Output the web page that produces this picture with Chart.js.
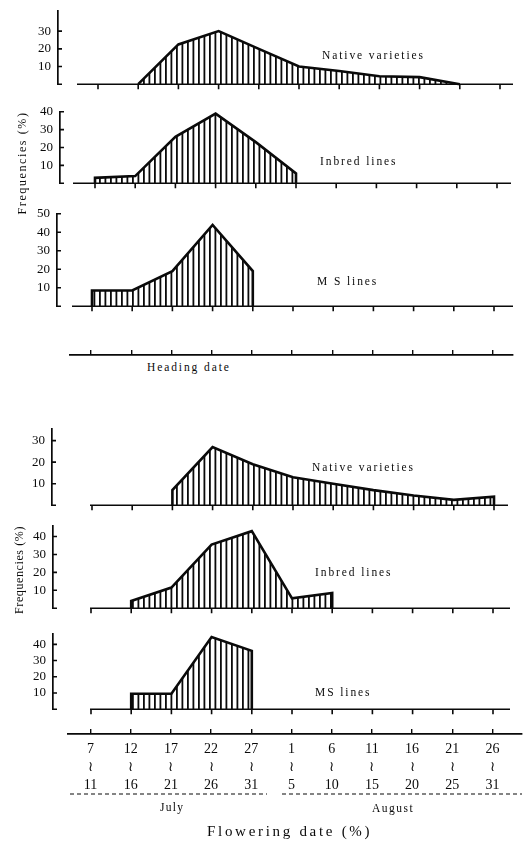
<!DOCTYPE html>
<html>
<head>
<meta charset="utf-8">
<script src="https://cdn.jsdelivr.net/npm/chart.js@4.4.0/dist/chart.umd.min.js"></script>
<style>
  body{margin:0;background:#fff;width:531px;height:841px;overflow:hidden;position:relative;
       font-family:"Liberation Serif","DejaVu Serif",serif;color:#0a0a0a}
  canvas{position:absolute;left:0}
  .note{position:absolute;white-space:nowrap;line-height:1}
  .ytitle{position:absolute;white-space:nowrap;line-height:1;transform:translate(-50%,-50%) rotate(-90deg)}
</style>
</head>
<body>
<script>
// ---------- DATA ----------
// 5-day periods, July 7 - August 31
const startDays = ['7','12','17','22','27','1','6','11','16','21','26'];
const endDays   = ['11','16','21','26','31','5','10','15','20','25','31'];

// heading date, frequencies (%)
const headNative = [null, 0, 22.5, 30, 20, 10, 7.5, 4.5, 4, 0, null];
const headInbred = [3, 4, 26, 39, 23, 5.5, null, null, null, null, null];
const headMS     = [8.5, 8.5, 19, 44, 19, null, null, null, null, null, null];

// flowering date, frequencies (%)
const flowNative = [null, null, 7, 27, 19, 13, 10, 7, 4.5, 2.5, 4];
const flowInbred = [null, 4, 11.5, 35.5, 43, 5.5, 8.5, null, null, null, null];
const flowMS     = [null, 9.5, 9.5, 44.5, 36, null, null, null, null, null, null];

// y tick labels per panel
const ticksNativeHead = [0, 10, 20, 30];
const ticks40 = [0, 10, 20, 30, 40];
const ticks50 = [0, 10, 20, 30, 40, 50];
const ticksNativeFlow = [0, 10, 20, 30];

// ---------- LAYOUT ----------
const INK = '#0a0a0a';
const SERIF = '"Liberation Serif", "DejaVu Serif", serif';
const STEP = 40.2;   // px between periods
const W = 531;

// A: y-axis x, Z: zero y, T: top y, M: axis max, x0: first period x, from/to: baseline ends
const panels = [
  {vals: headNative, ticks: ticksNativeHead, M: 41.5, A: 58, Z: 88.5, T: 5.5, x0: 98, from: 77, to: 513},
  {vals: headInbred, ticks: ticks40, M: 40, A: 60, Z: 188, T: 107, x0: 95, from: 73, to: 511},
  {vals: headMS, ticks: ticks50, M: 50, A: 57, Z: 311, T: 209, x0: 92, from: 72, to: 513},
  {vals: flowNative, ticks: ticksNativeFlow, M: 35.5, A: 52, Z: 509.5, T: 423.5, x0: 92, from: 90, to: 508},
  {vals: flowInbred, ticks: ticks40, M: 46, A: 53, Z: 612.5, T: 520.5, x0: 91, from: 90, to: 510},
  {vals: flowMS, ticks: ticks40, M: 46.5, A: 53, Z: 714, T: 628.5, x0: 91, from: 90, to: 510}
];

// ---------- HELPERS ----------
function makeHatch(){
  const c = document.createElement('canvas');
  c.width = 11; c.height = 2;
  const g = c.getContext('2d');
  g.fillStyle = INK;
  g.fillRect(0, 0, 1.8, 2);
  g.fillRect(5.5, 0, 1.8, 2);
  return g.createPattern(c, 'repeat');
}
const hatch = makeHatch();

// polygon outline: drop to the baseline at both ends
function toPoints(vals){
  const idx = vals.map((v, i) => v == null ? -1 : i).filter(i => i >= 0);
  const pts = [{x: idx[0], y: 0}];
  idx.forEach(i => pts.push({x: i, y: vals[i]}));
  pts.push({x: idx[idx.length - 1], y: 0});
  return pts;
}

function addCanvas(top, height){
  const cv = document.createElement('canvas');
  cv.width = W; cv.height = height;
  cv.style.top = top + 'px';
  cv.style.width = W + 'px'; cv.style.height = height + 'px';
  document.body.appendChild(cv);
  return cv;
}

// baseline with period ticks + inward y ticks
const panelDeco = {
  id: 'panelDeco',
  afterDatasetsDraw(chart, args, o){
    const {ctx, scales: {x, y}, chartArea} = chart;
    const y0 = y.getPixelForValue(0);
    ctx.save();
    ctx.strokeStyle = INK;
    ctx.lineWidth = 1.6;
    ctx.beginPath();
    ctx.moveTo(o.from, y0); ctx.lineTo(o.to, y0);
    startDays.forEach((_, i) => {
      const px = x.getPixelForValue(i);
      ctx.moveTo(px, y0); ctx.lineTo(px, y0 + 5);
    });
    y.ticks.forEach(t => {
      const py = y.getPixelForValue(t.value);
      ctx.moveTo(chartArea.left, py); ctx.lineTo(chartArea.left + 4, py);
    });
    ctx.stroke();
    ctx.restore();
  }
};

// ---------- PANELS ----------
const PAD = 10;
panels.forEach(p => {
  const cv = addCanvas(p.T - PAD, p.Z - p.T + 2 * PAD);
  new Chart(cv, {
    type: 'line',
    data: {
      datasets: [{
        data: toPoints(p.vals),
        borderColor: INK,
        borderWidth: 2.6,
        backgroundColor: hatch,
        fill: 'origin',
        pointRadius: 0,
        tension: 0,
        clip: false
      }]
    },
    options: {
      responsive: false,
      animation: false,
      layout: {padding: {top: PAD, bottom: PAD, left: 0, right: 0}},
      plugins: {legend: {display: false}, tooltip: {enabled: false},
                panelDeco: {from: p.from, to: p.to}},
      scales: {
        x: {type: 'linear', display: false,
            min: (p.A - p.x0) / STEP, max: (W - p.x0) / STEP},
        y: {
          min: 0, max: p.M,
          afterFit: s => { s.width = p.A; },
          afterBuildTicks: s => { s.ticks = p.ticks.map(v => ({value: v})); },
          border: {display: true, color: INK, width: 1.7},
          grid: {display: true, drawOnChartArea: false, drawTicks: false},
          ticks: {callback: v => v === 0 ? '' : v, color: INK, padding: 7,
                  font: {family: SERIF, size: 13}}
        }
      }
    },
    plugins: [panelDeco]
  });
});

// ---------- DATE AXES ----------
const dashDeco = {
  id: 'dashDeco',
  afterDraw(chart, args, o){
    if(!o.y) return;
    const ctx = chart.ctx;
    ctx.save();
    ctx.strokeStyle = INK; ctx.lineWidth = 1.2; ctx.setLineDash([4, 3]);
    ctx.beginPath();
    ctx.moveTo(70, o.y); ctx.lineTo(267, o.y);
    ctx.moveTo(282, o.y); ctx.lineTo(522, o.y);
    ctx.stroke();
    ctx.restore();
  }
};

function dateAxis(axisY, x0, left, right, withLabels){
  const H = withLabels ? 70 : 4;
  const top = axisY - 5 - 2;
  const cv = addCanvas(top, 2 + 5 + H);
  new Chart(cv, {
    type: 'line',
    data: {datasets: []},
    options: {
      responsive: false,
      animation: false,
      layout: {padding: {top: 2, bottom: 0, left: left, right: W - right}},
      plugins: {legend: {display: false}, tooltip: {enabled: false},
                dashDeco: {y: withLabels ? 793.5 - top : 0}},
      scales: {
        x: {
          type: 'linear', position: 'bottom',
          min: (left - x0) / STEP, max: (right - x0) / STEP,
          afterFit: s => { s.height = H; },
          afterBuildTicks: s => { s.ticks = startDays.map((_, i) => ({value: i})); },
          border: {display: true, color: INK, width: 1.7},
          grid: {display: true, drawOnChartArea: true, drawTicks: false, color: INK, lineWidth: 1.4},
          ticks: {
            display: withLabels, autoSkip: false, maxRotation: 0, padding: 6, color: INK,
            font: {family: SERIF, size: 14, lineHeight: 1.3},
            callback: v => [startDays[v], '≀', endDays[v]]
          }
        },
        y: {display: false}
      }
    },
    plugins: [dashDeco]
  });
}
dateAxis(355, 91, 70, 513, false);
dateAxis(733.5, 90.5, 68, 522, true);

// ---------- TEXT ----------
const notes = [
  {t: 'Native varieties', x: 322, y: 56},
  {t: 'Inbred lines', x: 320, y: 162},
  {t: 'M S  lines', x: 317, y: 282},
  {t: 'Heading date', x: 147, y: 368},
  {t: 'Native varieties', x: 312, y: 468},
  {t: 'Inbred lines', x: 315, y: 573},
  {t: 'MS lines', x: 315, y: 693},
  {t: 'July', x: 160, y: 808, ls: 1.3},
  {t: 'August', x: 372, y: 809, ls: 1.5},
  {t: 'Flowering date (%)', x: 207, y: 832, f: 15, ls: 2.7}
];
notes.forEach(n => {
  const d = document.createElement('div');
  d.className = 'note';
  d.textContent = n.t;
  const f = n.f || 11.5;
  d.style.fontSize = f + 'px';
  d.style.letterSpacing = (n.ls || 1.9) + 'px';
  d.style.left = n.x + 'px';
  d.style.top = (n.y - f * 0.55) + 'px';
  document.body.appendChild(d);
});

[{x: 21.5, y: 162.5, ls: 1.6}, {x: 18.5, y: 570, ls: 0.6}].forEach(n => {
  const d = document.createElement('div');
  d.className = 'ytitle';
  d.textContent = 'Frequencies (%)';
  d.style.fontSize = '12px';
  d.style.letterSpacing = n.ls + 'px';
  d.style.left = n.x + 'px';
  d.style.top = n.y + 'px';
  document.body.appendChild(d);
});
</script>
</body>
</html>
